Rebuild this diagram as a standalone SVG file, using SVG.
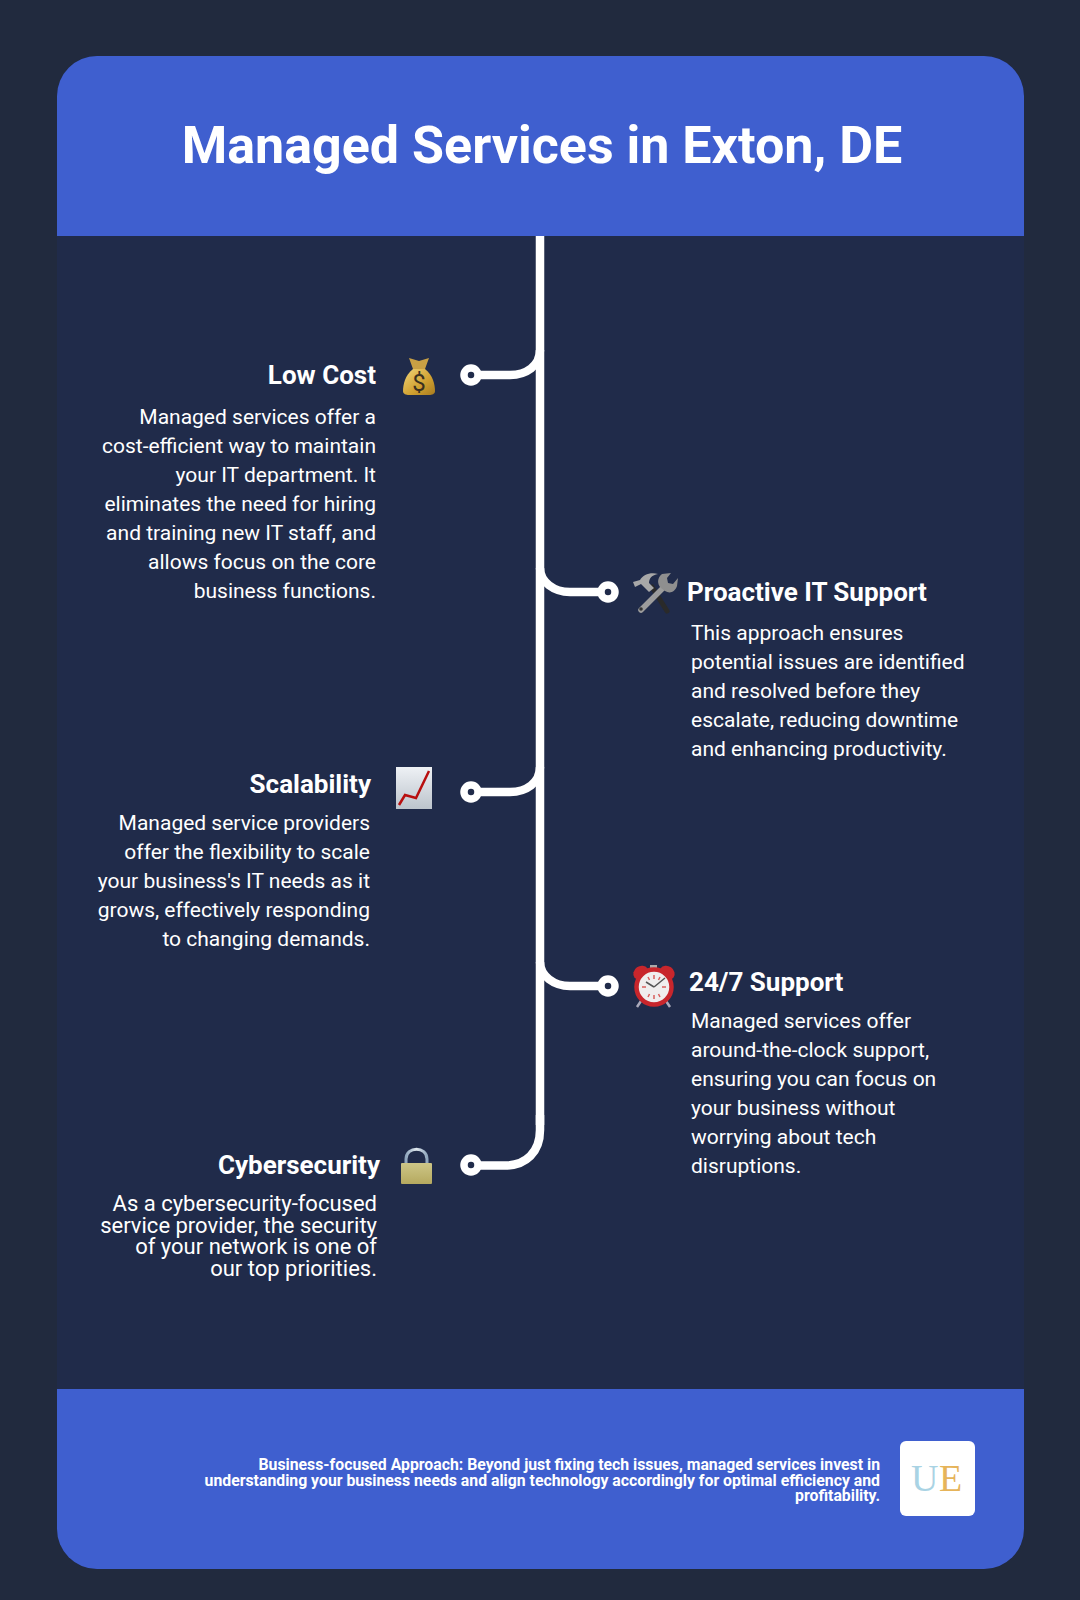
<svg xmlns="http://www.w3.org/2000/svg" width="1080" height="1600" viewBox="0 0 1080 1600">
<defs>
<style>
text{font-family:Roboto,"Liberation Sans",sans-serif;fill:#fff}
.h{font-size:26px;font-weight:700}
.b{font-size:21px}
.b2{font-size:22px}
.e{text-anchor:end}
.c{fill:none;stroke:#fff;stroke-width:8.5}
.d{fill:#202b4a;stroke:#fff;stroke-width:7.5}
.l{font-family:"Liberation Serif",serif;font-size:38px}
</style>
<linearGradient id="bag" x1="0" y1="0" x2="1" y2="1"><stop offset="0" stop-color="#f0d478"/><stop offset=".6" stop-color="#d0a030"/><stop offset="1" stop-color="#a87c20"/></linearGradient>
<linearGradient id="lock" x1="0" y1="0" x2="0" y2="1"><stop offset="0" stop-color="#cdc687"/><stop offset="1" stop-color="#b5a95f"/></linearGradient>
<linearGradient id="chart" x1="0" y1="0" x2="0" y2="1"><stop offset="0" stop-color="#eef1f5"/><stop offset="1" stop-color="#bcc4cc"/></linearGradient>
<linearGradient id="shk" x1="0" y1="0" x2="1" y2="0"><stop offset="0" stop-color="#8fa6bd"/><stop offset=".5" stop-color="#e0e8ee"/><stop offset="1" stop-color="#8fa6bd"/></linearGradient>
</defs>
<rect width="1080" height="1600" fill="#212a3e"/>
<path d="M57 96a40 40 0 0 1 40-40H984a40 40 0 0 1 40 40V1529a40 40 0 0 1-40 40H97a40 40 0 0 1-40-40Z" fill="#202b4a"/>
<path d="M57 236V96a40 40 0 0 1 40-40H984a40 40 0 0 1 40 40V236Z" fill="#3f5fcf"/>
<path d="M57 1389V1529a40 40 0 0 0 40 40H984a40 40 0 0 0 40-40V1389Z" fill="#3f5fcf"/>
<g id="header"><text x="542" y="163" text-anchor="middle" font-size="52" font-weight="700">Managed Services in Exton, DE</text></g>
<g id="connectors">
<path class="c" d="M540 236V1125"/>
<path class="c" d="M540 350C540 366 526 375 510 375H471"/>
<path class="c" d="M540 568C540 582 554 592 570 592H608"/>
<path class="c" d="M540 767C540 783 526 792 510 792H471"/>
<path class="c" d="M540 962C540 976 554 986 570 986H608"/>
<path class="c" d="M540 1115V1130C540 1152 526 1165.500 505 1165.500H471"/>
</g>
<g id="node-low-cost">
<circle class="d" cx="471" cy="375" r="7"/>
<path d="M409 358l10 3 10-3-4 11h-12Z" fill="#c9a044"/><path d="M413 369h12c8 6 10 16 10 22 0 3-3 4-6 4h-20c-3 0-6-1-6-4 0-6 2-16 10-22Z" fill="url(#bag)"/>
<text x="419" y="391" font-size="24" text-anchor="middle" style="fill:#3a3020">$</text>
<text class="h e" x="376" y="384">Low Cost</text>
<text class="b e"><tspan x="376" y="424">Managed services offer a</tspan><tspan x="376" y="453">cost-efficient way to maintain</tspan><tspan x="376" y="482">your IT department. It</tspan><tspan x="376" y="511">eliminates the need for hiring</tspan><tspan x="376" y="540">and training new IT staff, and</tspan><tspan x="376" y="569">allows focus on the core</tspan><tspan x="376" y="598">business functions.</tspan></text>
</g>
<g id="node-proactive">
<circle class="d" cx="608" cy="592" r="7"/>
<path d="M652 587l15 24" stroke="#2a2a2a" stroke-width="5" stroke-linecap="round"/>
<path d="M665 586l-24 24" stroke="#9c9c9c" stroke-width="5.500" stroke-linecap="round"/>
<circle cx="641" cy="609" r="1.800" fill="#333"/>
<path d="M633 582l7-2c3-5 10-8 18-6-6 1-9 4-9 9l5 5-5 4-8-8-6 3Z" fill="#a8a8a8"/>
<path d="M662 574c-5 4-5 10-1 14l4 3c5 3 10 1 12-5l1-8-5 6-5-1-1-5 4-5Z" fill="#8f8f8f"/>
<text class="h" x="687" y="601">Proactive IT Support</text>
<text class="b"><tspan x="691" y="640">This approach ensures</tspan><tspan x="691" y="669">potential issues are identified</tspan><tspan x="691" y="698">and resolved before they</tspan><tspan x="691" y="727">escalate, reducing downtime</tspan><tspan x="691" y="756">and enhancing productivity.</tspan></text>
</g>
<g id="node-scalability">
<circle class="d" cx="471" cy="792" r="7"/>
<rect x="396" y="767" width="36" height="42" fill="url(#chart)"/>
<path d="M399 805l6-10 11 3 13-27" fill="none" stroke="#b80f0f" stroke-width="2.500"/>
<text class="h e" x="371" y="793">Scalability</text>
<text class="b e"><tspan x="370" y="830">Managed service providers</tspan><tspan x="370" y="859">offer the flexibility to scale</tspan><tspan x="370" y="888">your business's IT needs as it</tspan><tspan x="370" y="917">grows, effectively responding</tspan><tspan x="370" y="946">to changing demands.</tspan></text>
</g>
<g id="node-support">
<circle class="d" cx="608" cy="986" r="7"/>
<path d="M641 1001l-4 6M666 1001l4 6" stroke="#aab" stroke-width="2.500"/>
<rect x="650" y="965" width="7" height="4" fill="#aaa"/>
<ellipse cx="641" cy="973" rx="8" ry="7" fill="#c8262c" transform="rotate(-35 641 973)"/>
<ellipse cx="667" cy="973" rx="8" ry="7" fill="#c8262c" transform="rotate(35 667 973)"/>
<circle cx="654" cy="987" r="17.500" fill="#f0eeee" stroke="#c8262c" stroke-width="4.500"/>
<path d="M654 975v4M654 995v4M642 987h4M662 987h4M648 977l1.500 3M660 977l-1.500 3M648 997l1.500-3M660 997l-1.500-3" stroke="#d8605e" stroke-width="1.500"/>
<path d="M654 987l-8-5M654 987l11-9" stroke="#555" stroke-width="1.500"/>
<text class="h" x="689" y="991">24/7 Support</text>
<text class="b"><tspan x="691" y="1028">Managed services offer</tspan><tspan x="691" y="1057">around-the-clock support,</tspan><tspan x="691" y="1086">ensuring you can focus on</tspan><tspan x="691" y="1115">your business without</tspan><tspan x="691" y="1144">worrying about tech</tspan><tspan x="691" y="1173">disruptions.</tspan></text>
</g>
<g id="node-cyber">
<circle class="d" cx="471" cy="1165" r="7"/>
<path d="M406 1164v-5c0-13 21-13 21 0v5" fill="none" stroke="url(#shk)" stroke-width="3"/>
<rect x="401" y="1163" width="31" height="21" rx="1" fill="url(#lock)"/>
<text class="h e" x="380" y="1174">Cybersecurity</text>
<text class="b2 e"><tspan x="377" y="1211">As a cybersecurity-focused</tspan><tspan x="377" y="1232.500">service provider, the security</tspan><tspan x="377" y="1254">of your network is one of</tspan><tspan x="377" y="1276">our top priorities.</tspan></text>
</g>
<g id="footer">
<text font-size="15.800" font-weight="700" text-anchor="end"><tspan x="880" y="1470">Business-focused Approach: Beyond just fixing tech issues, managed services invest in</tspan><tspan x="880" y="1485.500">understanding your business needs and align technology accordingly for optimal efficiency and</tspan><tspan x="880" y="1501">profitability.</tspan></text>
<rect x="900" y="1441" width="75" height="75" rx="6" fill="#fff"/>
<text class="l" x="911" y="1491" style="fill:#a9d3e4">U</text><text class="l" x="939" y="1491" style="fill:#e6b45a">E</text>
</g>
</svg>
